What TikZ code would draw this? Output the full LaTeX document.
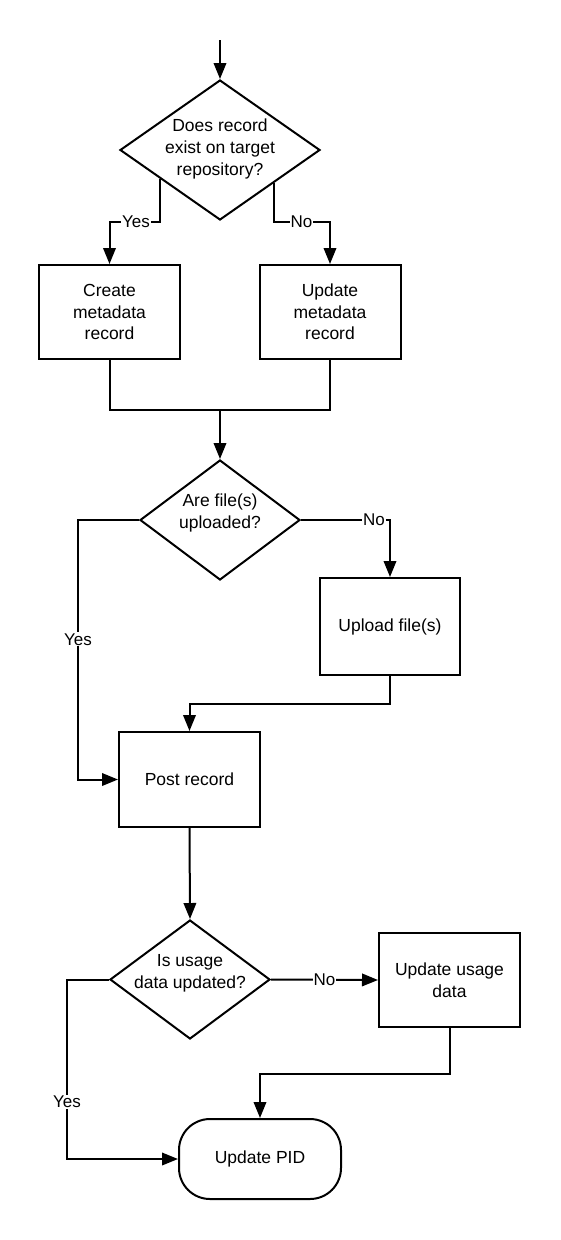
\documentclass[tikz,border=0pt]{standalone}
\usepackage{fontspec}
\setmainfont{Liberation Sans}
\usetikzlibrary{shapes.geometric,arrows.meta,calc}
\begin{document}
\begin{tikzpicture}[x=1pt,y=-1pt,
  line width=2pt,
  every node/.style={font=\fontsize{17.5}{21.7}\selectfont},
  procbox/.style={draw,rectangle,minimum width=141pt,minimum height=94pt,inner sep=0pt,align=center},
  decision/.style={draw,diamond,inner sep=0pt},
  dtext/.style={align=center,inner sep=0pt},
  termbox/.style={draw,rectangle,rounded corners=31pt,minimum width=162pt,minimum height=80pt,inner sep=0pt},
  flow/.style={-{Triangle[length=16pt,width=12.5pt]}},
  lbl/.style={fill=white,inner sep=1pt,font=\fontsize{17}{20}\selectfont}]
\useasboundingbox (0,0) rectangle (560,1240);
\fill[white] (0,0) rectangle (560,1240);

% nodes
\coordinate (start) at (220,40);
\node[decision,minimum width=200pt,minimum height=140pt] (d1) at (220,150) {};
\node[dtext] (t1) at (220,149) {Does record\\exist on target\\repository?};
\node[procbox] (b1) at (109.5,312) {Create\\metadata\\record};
\node[procbox] (b2) at (330,312) {Update\\metadata\\record};
\coordinate (m1) at (220,410);
\node[decision,minimum width=160pt,minimum height=120pt] (d2) at (220,520) {};
\node[dtext] (t2) at (220,513) {Are file(s)\\uploaded?};
\node[procbox,minimum width=140pt,minimum height=97pt] (up) at (390,626.5) {Upload file(s)};
\node[procbox,minimum height=95pt] (post) at (189.5,779.5) {Post record};
\node[decision,minimum width=160pt,minimum height=119pt] (d3) at (190,979.5) {};
\node[dtext] (t3) at (190,973) {Is usage\\data updated?};
\node[procbox] (uu) at (449.5,980) {Update usage\\data};
\node[termbox] (term) at (260,1159) {Update PID};

% connectors
\draw[flow] (start) -- (d1.north);
\draw[flow] ($(d1.west)!0.41!(d1.south)$) |- (136,222) node[lbl] {Yes} -| (b1.north);
\draw[flow] ($(d1.south)!0.53!(d1.east)$) |- (301.5,222) node[lbl] {No} -| (b2.north);
\draw (b1.south) |- (m1);
\draw (b2.south) |- (m1);
\draw[flow] (m1) -- (d2.north);
\draw[flow] (d2.east) -- node[lbl,pos=0.82] {No} (d2.east -| up.north) -- (up.north);
\draw[flow] (d2.west) -- ++(-61,0) |- node[lbl,pos=0.23] {Yes} (post.west);
\draw[flow] (up.south) -- ++(0,28) -| (post.north);
\draw[flow] (post.south) -- (d3.north);
\draw[flow] (d3.east) -- node[lbl] {No} (uu.west);
\draw[flow] (d3.west) -- ++(-42,0) |- node[lbl,pos=0.34] {Yes} (term.west);
\draw[flow] (uu.south) -- ++(0,46) -| (term.north);
\end{tikzpicture}
\end{document}
